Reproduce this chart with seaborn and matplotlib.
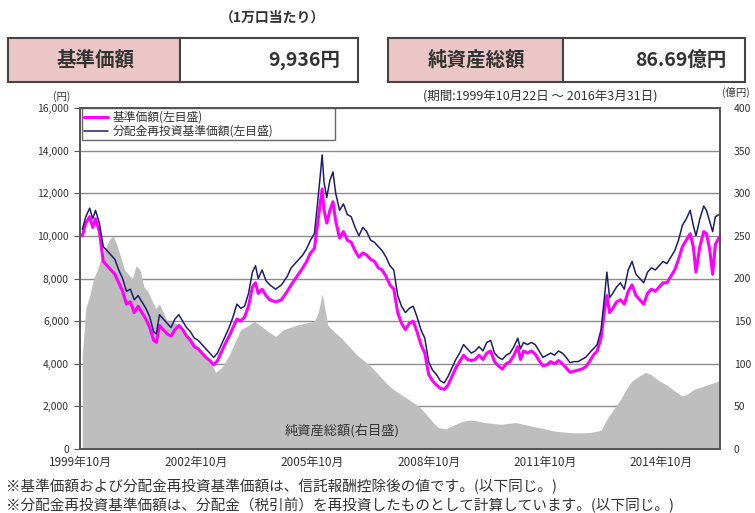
import matplotlib
matplotlib.use("Agg")
import matplotlib.pyplot as plt
import seaborn as sns
import pandas as pd
from matplotlib.patches import Rectangle

# ---------------- data ----------------
nav_dates = [1999.81, 1999.9, 2000.0, 2000.08, 2000.15, 2000.25, 2000.35, 2000.45, 2000.55, 2000.65,
             2000.75, 2000.85, 2000.95, 2001.05, 2001.15, 2001.25, 2001.35, 2001.45, 2001.55, 2001.65,
             2001.72, 2001.8, 2001.9, 2002.0, 2002.1, 2002.2, 2002.3, 2002.4, 2002.5, 2002.6,
             2002.7, 2002.8, 2002.9, 2003.0, 2003.1, 2003.2, 2003.3, 2003.4, 2003.5, 2003.6,
             2003.7, 2003.8, 2003.9, 2004.0, 2004.1, 2004.2, 2004.28, 2004.35, 2004.45, 2004.55,
             2004.65, 2004.8, 2004.95, 2005.1, 2005.2, 2005.35, 2005.5, 2005.6, 2005.7, 2005.8,
             2005.88, 2005.95, 2006.0, 2006.05, 2006.12, 2006.2, 2006.28, 2006.35, 2006.45, 2006.55,
             2006.65, 2006.75, 2006.85, 2006.95, 2007.05, 2007.15, 2007.25, 2007.35, 2007.45, 2007.55,
             2007.65, 2007.75, 2007.85, 2007.95, 2008.05, 2008.15, 2008.25, 2008.35, 2008.45, 2008.55,
             2008.65, 2008.75, 2008.85, 2008.95, 2009.05, 2009.15, 2009.25, 2009.35, 2009.45, 2009.55,
             2009.65, 2009.75, 2009.85, 2009.95, 2010.05, 2010.15, 2010.25, 2010.35, 2010.45, 2010.55,
             2010.65, 2010.75, 2010.85, 2010.95, 2011.05, 2011.12, 2011.2, 2011.3, 2011.4, 2011.5,
             2011.6, 2011.7, 2011.8, 2011.9, 2012.0, 2012.1, 2012.2, 2012.3, 2012.4, 2012.5,
             2012.6, 2012.7, 2012.8, 2012.9, 2013.0, 2013.1, 2013.2, 2013.28, 2013.35, 2013.42,
             2013.5, 2013.6, 2013.7, 2013.8, 2013.9, 2014.0, 2014.1, 2014.2, 2014.3, 2014.4,
             2014.5, 2014.6, 2014.7, 2014.8, 2014.9, 2015.0, 2015.1, 2015.2, 2015.3, 2015.4,
             2015.5, 2015.58, 2015.65, 2015.75, 2015.85, 2015.92, 2016.0, 2016.08, 2016.15, 2016.25]

reinvest_nav = [10300, 10900, 11300, 10800, 11200, 10600, 9500, 9300, 9100, 8900,
                8400, 8000, 7400, 7500, 7000, 7200, 6900, 6600, 6200, 5500,
                5400, 6300, 6100, 5900, 5700, 6100, 6300, 6000, 5700, 5500,
                5200, 5100, 4900, 4700, 4500, 4300, 4500, 4900, 5300, 5700,
                6200, 6800, 6600, 6700, 7300, 8300, 8600, 8000, 8400, 7900,
                7700, 7500, 7700, 8100, 8500, 8800, 9100, 9400, 9800, 10100,
                11500, 12800, 13800, 12500, 11800, 12600, 13000, 12000, 11200, 11500,
                11000, 10900, 10400, 10000, 10400, 10200, 9800, 9700, 9500, 9300,
                9000, 8600, 8400, 7200, 6700, 6400, 6600, 6700, 6200, 5600,
                5200, 4100, 3700, 3500, 3200, 3100, 3400, 3800, 4200, 4500,
                4900, 4700, 4500, 4600, 4800, 4600, 5000, 5100, 4500, 4300,
                4200, 4400, 4500, 4800, 5200, 4700, 5000, 4900, 5000, 4900,
                4600, 4300, 4400, 4500, 4400, 4600, 4500, 4300, 4050, 4100,
                4100, 4200, 4300, 4500, 4700, 4900, 5600, 7000, 8300, 7100,
                7300, 7600, 7800, 7500, 8400, 8800, 8200, 8000, 7800, 8300,
                8500, 8400, 8600, 8800, 8700, 9000, 9300, 9800, 10500, 10800,
                11200, 10500, 10000, 10800, 11400, 11200, 10700, 10200, 10900, 11000]

base_nav = [10000, 10600, 10900, 10400, 10800, 10200, 8800, 8600, 8400, 8200,
            7800, 7400, 6800, 6900, 6400, 6700, 6400, 6100, 5700, 5100,
            5000, 5800, 5600, 5400, 5300, 5600, 5800, 5600, 5300, 5100,
            4800, 4700, 4500, 4300, 4150, 3950, 4150, 4550, 4950, 5300,
            5700, 6100, 6000, 6200, 6700, 7600, 7800, 7300, 7500, 7200,
            7000, 6900, 7000, 7400, 7700, 8100, 8500, 8800, 9200, 9400,
            10500, 11500, 12200, 11200, 10600, 11200, 11600, 10700, 9900, 10200,
            9800, 9700, 9300, 9000, 9200, 9100, 8900, 8800, 8500, 8400,
            8100, 7700, 7500, 6400, 5900, 5600, 5900, 6000, 5500, 4900,
            4500, 3500, 3200, 3000, 2850, 2800, 3000, 3400, 3800, 4100,
            4400, 4200, 4150, 4200, 4400, 4200, 4500, 4600, 4100, 3900,
            3750, 4000, 4100, 4400, 4800, 4200, 4600, 4500, 4600, 4450,
            4150, 3900, 3950, 4100, 4000, 4150, 4000, 3800, 3600, 3650,
            3700, 3750, 3850, 4100, 4400, 4600, 5200, 6400, 7200, 6400,
            6600, 6900, 7000, 6800, 7400, 7700, 7200, 7000, 6800, 7300,
            7500, 7400, 7600, 7800, 7800, 8100, 8400, 8900, 9500, 9800,
            10100, 9500, 8300, 9500, 10200, 10100, 9400, 8200, 9600, 9936]

asset_dates = [1999.81, 1999.9, 2000.0, 2000.1, 2000.2, 2000.3, 2000.4, 2000.5, 2000.6, 2000.7,
               2000.8, 2000.9, 2001.0, 2001.1, 2001.2, 2001.3, 2001.4, 2001.5, 2001.6, 2001.7,
               2001.8, 2001.9, 2002.0, 2002.2, 2002.4, 2002.6, 2002.8, 2003.0, 2003.15, 2003.25,
               2003.4, 2003.6, 2003.75, 2003.9, 2004.1, 2004.25, 2004.4, 2004.6, 2004.8, 2005.0,
               2005.2, 2005.4, 2005.6, 2005.8, 2005.9, 2006.0, 2006.05, 2006.15, 2006.3, 2006.5,
               2006.7, 2006.9, 2007.1, 2007.3, 2007.5, 2007.7, 2007.9, 2008.1, 2008.3, 2008.5,
               2008.7, 2008.85, 2009.0, 2009.2, 2009.4, 2009.6, 2009.8, 2010.0, 2010.2, 2010.4,
               2010.6, 2010.8, 2011.0, 2011.2, 2011.4, 2011.6, 2011.8, 2012.0, 2012.2, 2012.5,
               2012.8, 2013.0, 2013.2, 2013.35, 2013.5, 2013.7, 2013.85, 2014.0, 2014.2, 2014.35,
               2014.5, 2014.7, 2014.9, 2015.1, 2015.3, 2015.45, 2015.6, 2015.8, 2016.0, 2016.25]

net_assets = [110, 165, 180, 200, 210, 225, 235, 245, 250, 240,
              225, 210, 205, 200, 215, 210, 190, 185, 175, 165,
              170, 160, 150, 148, 140, 130, 120, 110, 100, 90,
              95, 110, 125, 140, 145, 150, 145, 138, 132, 140,
              143, 146, 148, 150, 160, 182, 170, 145, 138, 130,
              120, 110, 103, 95, 85, 75, 68, 62, 56, 50,
              40, 32, 25, 24, 28, 32, 34, 33, 31, 30,
              29, 30, 31, 29, 27, 25, 23, 21, 20, 19,
              19, 20, 22, 35, 45, 58, 70, 80, 86, 90,
              87, 80, 75, 68, 62, 65, 70, 73, 76, 80]

left_ticks = [0, 2000, 4000, 6000, 8000, 10000, 12000, 14000, 16000]
right_ticks = [0, 50, 100, 150, 200, 250, 300, 350, 400]
x_tick_pos = [1999.75, 2002.75, 2005.75, 2008.75, 2011.75, 2014.75]
x_tick_labels = ["1999年10月", "2002年10月", "2005年10月", "2008年10月", "2011年10月", "2014年10月"]

label_base = "基準価額(左目盛)"
label_reinv = "分配金再投資基準価額(左目盛)"

# ---------------- style ----------------
sns.set_theme(style="white")
plt.rcParams["font.family"] = ["Noto Sans CJK JP", "DejaVu Sans"]

W, H = 755, 513
fig = plt.figure(figsize=(W / 100, H / 100), dpi=100)
fig.patch.set_facecolor("white")

def fx(px):
    return px / W

def fy(py):
    return 1 - py / H

ax = fig.add_axes([fx(80), fy(449), fx(720) - fx(80), fy(108) - fy(449)])
ax2 = ax.twinx()
ax.set_zorder(2)
ax2.set_zorder(1)
ax.patch.set_visible(False)
ax2.patch.set_facecolor("white")

# net assets area (right axis)
ax2.fill_between(asset_dates, net_assets, 0, color="#BEBEBE", lw=0, zorder=2)
ax2.set_ylim(0, 400)
ax2.set_yticks(right_ticks)
ax2.set_yticklabels([str(v) for v in right_ticks])
ax2.yaxis.grid(True, color="#8C8C8C", lw=1.0, zorder=1)
ax2.set_axisbelow(True)
ax2.tick_params(axis="y", direction="out", length=0, pad=10, labelsize=7.5, colors="#333333")

# lines (left axis)
df = pd.DataFrame({"date": nav_dates, "base": base_nav, "reinv": reinvest_nav})
sns.lineplot(data=df, x="date", y="base", ax=ax, color="#FF00FF", lw=2.2, label=label_base)
sns.lineplot(data=df, x="date", y="reinv", ax=ax, color="#1E1E6E", lw=1.1, label=label_reinv)

ax.set_xlim(1999.75, 2016.27)
ax.set_ylim(0, 16000)
ax.set_yticks(left_ticks)
ax.set_yticklabels([f"{v:,}" for v in left_ticks])
ax.set_xticks(x_tick_pos)
ax.set_xticklabels(x_tick_labels)
ax.set_xlabel("")
ax.set_ylabel("")
ax2.set_ylabel("")
ax.tick_params(axis="y", direction="out", length=4, width=0.8, color="#555555",
               pad=4, labelsize=7.5, labelcolor="#333333")
ax.tick_params(axis="x", direction="in", length=3, width=0.8, color="#777777",
               pad=5, labelsize=8.5, labelcolor="#333333")
for a in (ax, ax2):
    for s in a.spines.values():
        s.set_color("#555555")
        s.set_linewidth(1.3)

leg = ax.legend(loc="upper left", bbox_to_anchor=(0.003, 0.999, 0.395, 0), mode="expand",
                frameon=True, fancybox=False, edgecolor="#444444", fontsize=8.5,
                handlelength=2.0, borderaxespad=0, borderpad=0.2, labelspacing=0.1,
                handletextpad=0.4)
leg.get_frame().set_linewidth(1.0)
for t in leg.get_texts():
    t.set_color("#333333")

ax.text(0.41, 0.055, "純資産総額(右目盛)", transform=ax.transAxes, ha="center", va="center",
        fontsize=9.5, color="#333333")

# axis unit labels & period
fig.text(fx(62), fy(97), "(円)", ha="center", va="center", fontsize=7.5, color="#333333")
fig.text(fx(736), fy(92), "(億円)", ha="center", va="center", fontsize=7.5, color="#333333")
fig.text(fx(540), fy(97), "(期間:1999年10月22日 ～ 2016年3月31日)", ha="center", va="center",
         fontsize=9, color="#333333")

# header boxes
pink = "#EBC6C6"
def box(x0, xm, x1, y0, y1):
    fig.patches.append(Rectangle((fx(x0), fy(y1)), fx(xm) - fx(x0), fy(y0) - fy(y1),
                                 transform=fig.transFigure, facecolor=pink,
                                 edgecolor="#444444", lw=1.5, zorder=1))
    fig.patches.append(Rectangle((fx(xm), fy(y1)), fx(x1) - fx(xm), fy(y0) - fy(y1),
                                 transform=fig.transFigure, facecolor="white",
                                 edgecolor="#444444", lw=1.5, zorder=1))

box(8, 180, 358, 38, 82)
box(388, 563, 745, 38, 82)
fig.text(fx(96), fy(60), "基準価額", ha="center", va="center", fontsize=14,
         color="#333333", fontweight="bold")
fig.text(fx(340), fy(60), "9,936円", ha="right", va="center", fontsize=14,
         color="#333333", fontweight="bold")
fig.text(fx(476), fy(60), "純資産総額", ha="center", va="center", fontsize=14,
         color="#333333", fontweight="bold")
fig.text(fx(726), fy(60), "86.69億円", ha="right", va="center", fontsize=14,
         color="#333333", fontweight="bold")
fig.text(fx(272), fy(18), "（1万口当たり）", ha="center", va="center", fontsize=10,
         color="#333333", fontweight="bold")

# footnotes
fig.text(fx(6), fy(486), "※基準価額および分配金再投資基準価額は、信託報酬控除後の値です。(以下同じ。)",
         ha="left", va="center", fontsize=10.5, color="#333333")
fig.text(fx(6), fy(505), "※分配金再投資基準価額は、分配金（税引前）を再投資したものとして計算しています。(以下同じ。)",
         ha="left", va="center", fontsize=10.5, color="#333333")

fig.savefig("out.png", dpi=100, facecolor="white")
